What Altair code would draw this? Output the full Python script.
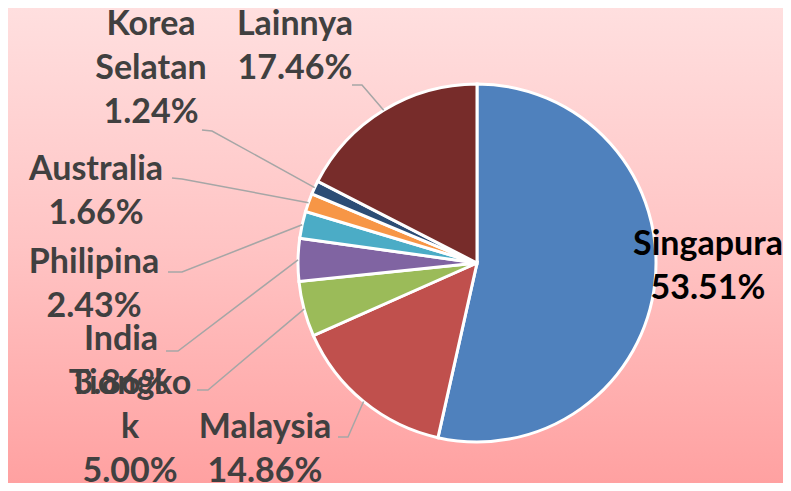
import altair as alt
import numpy as np
import pandas as pd

# ---- data ----
countries = ["Singapura", "Malaysia", "Tiongkok", "India", "Philipina",
             "Australia", "Korea Selatan", "Lainnya"]
shares = [53.51, 14.86, 5.00, 3.86, 2.43, 1.66, 1.24, 17.46]
# label name lines as wrapped in the original
label_names = ["Singapura", "Malaysia", "Tiongko\nk", "India", "Philipina",
               "Australia", "Korea\nSelatan", "Lainnya"]

# ---- style ----
colors = ["#4F81BD", "#C0504D", "#9BBB59", "#8064A2", "#4BACC6",
          "#F79646", "#2C4D75", "#772C2A"]
text_colors = ["#000000"] + ["#404040"] * 7

W, H = 775, 475
CX, CY, R = 469, 255, 179

# ---- label layout (chart pixels) ----
label_x = [700, 257, 122, 113, 86, 88, 143, 287]
label_y = [247, 430, 386, 342, 265, 172, 27, 27]
# leader start point and elbow (None for Singapura)
lead_start = [None, (330, 429), (189, 382), (158, 343), (160, 264),
              (164, 170), (194, 122), (344, 77)]
lead_elbow = [None, (340, 429), (200, 382), (170, 343), (174, 264),
              (174, 171), (204, 123), (354, 77)]

df = pd.DataFrame({
    "country": countries,
    "share": shares,
    "idx": list(range(len(countries))),
})

labels = pd.DataFrame({
    "country": countries,
    "label": [f"{n}\n{s:.2f}%" for n, s in zip(label_names, shares)],
    "lx": label_x,
    "ly": label_y,
    "tcolor": text_colors,
})

# leader lines end at pie edge at the slice mid-angle
total = sum(shares)
cum = np.cumsum([0] + shares)
rows = []
for i, c in enumerate(countries):
    if lead_start[i] is None:
        continue
    mid = (cum[i] + cum[i + 1]) / 2 / total * 2 * np.pi
    ex = CX + R * np.sin(mid)
    ey = CY - R * np.cos(mid)
    pts = [lead_start[i], lead_elbow[i], (ex, ey)]
    for k, (px, py) in enumerate(pts):
        rows.append({"country": c, "seq": k, "px": px, "py": py})
leaders = pd.DataFrame(rows)

xs = alt.Scale(domain=[0, W], range=[0, W])
ys = alt.Scale(domain=[0, H], range=[0, H])

bg = alt.Chart(pd.DataFrame({"a": [0]})).mark_rect(
    fill=alt.Gradient(
        gradient="linear",
        stops=[alt.GradientStop(color="#FFDFDF", offset=0),
               alt.GradientStop(color="#FFC4C4", offset=0.5),
               alt.GradientStop(color="#FFA1A1", offset=1)],
        x1=0, x2=0, y1=0, y2=1,
    )
).encode(x=alt.value(0), x2=alt.value(W), y=alt.value(0), y2=alt.value(H))

pie = alt.Chart(df).mark_arc(outerRadius=R, stroke="white", strokeWidth=3).encode(
    theta=alt.Theta("share:Q", stack=True),
    color=alt.Color("country:N", scale=alt.Scale(domain=countries, range=colors), legend=None),
    order=alt.Order("idx:Q"),
    x=alt.value(CX),
    y=alt.value(CY),
)

lines = alt.Chart(leaders).mark_line(color="#A6A6A6", strokeWidth=1.5).encode(
    x=alt.X("px:Q", scale=xs, axis=None),
    y=alt.Y("py:Q", scale=ys, axis=None),
    detail="country:N",
    order="seq:Q",
)

texts = alt.Chart(labels).mark_text(
    font="Lato", fontSize=34, fontWeight="bold", lineBreak="\n",
    lineHeight=44, align="center", baseline="alphabetic",
).encode(
    x=alt.X("lx:Q", scale=xs, axis=None),
    y=alt.Y("ly:Q", scale=ys, axis=None),
    text="label:N",
    color=alt.Color("tcolor:N", scale=None),
)

chart = alt.layer(bg, pie, lines, texts).properties(
    width=W, height=H, padding=0, autosize="none"
).configure_view(stroke=None)

chart.save("out.html", embed_options={"renderer": "svg", "actions": False})
